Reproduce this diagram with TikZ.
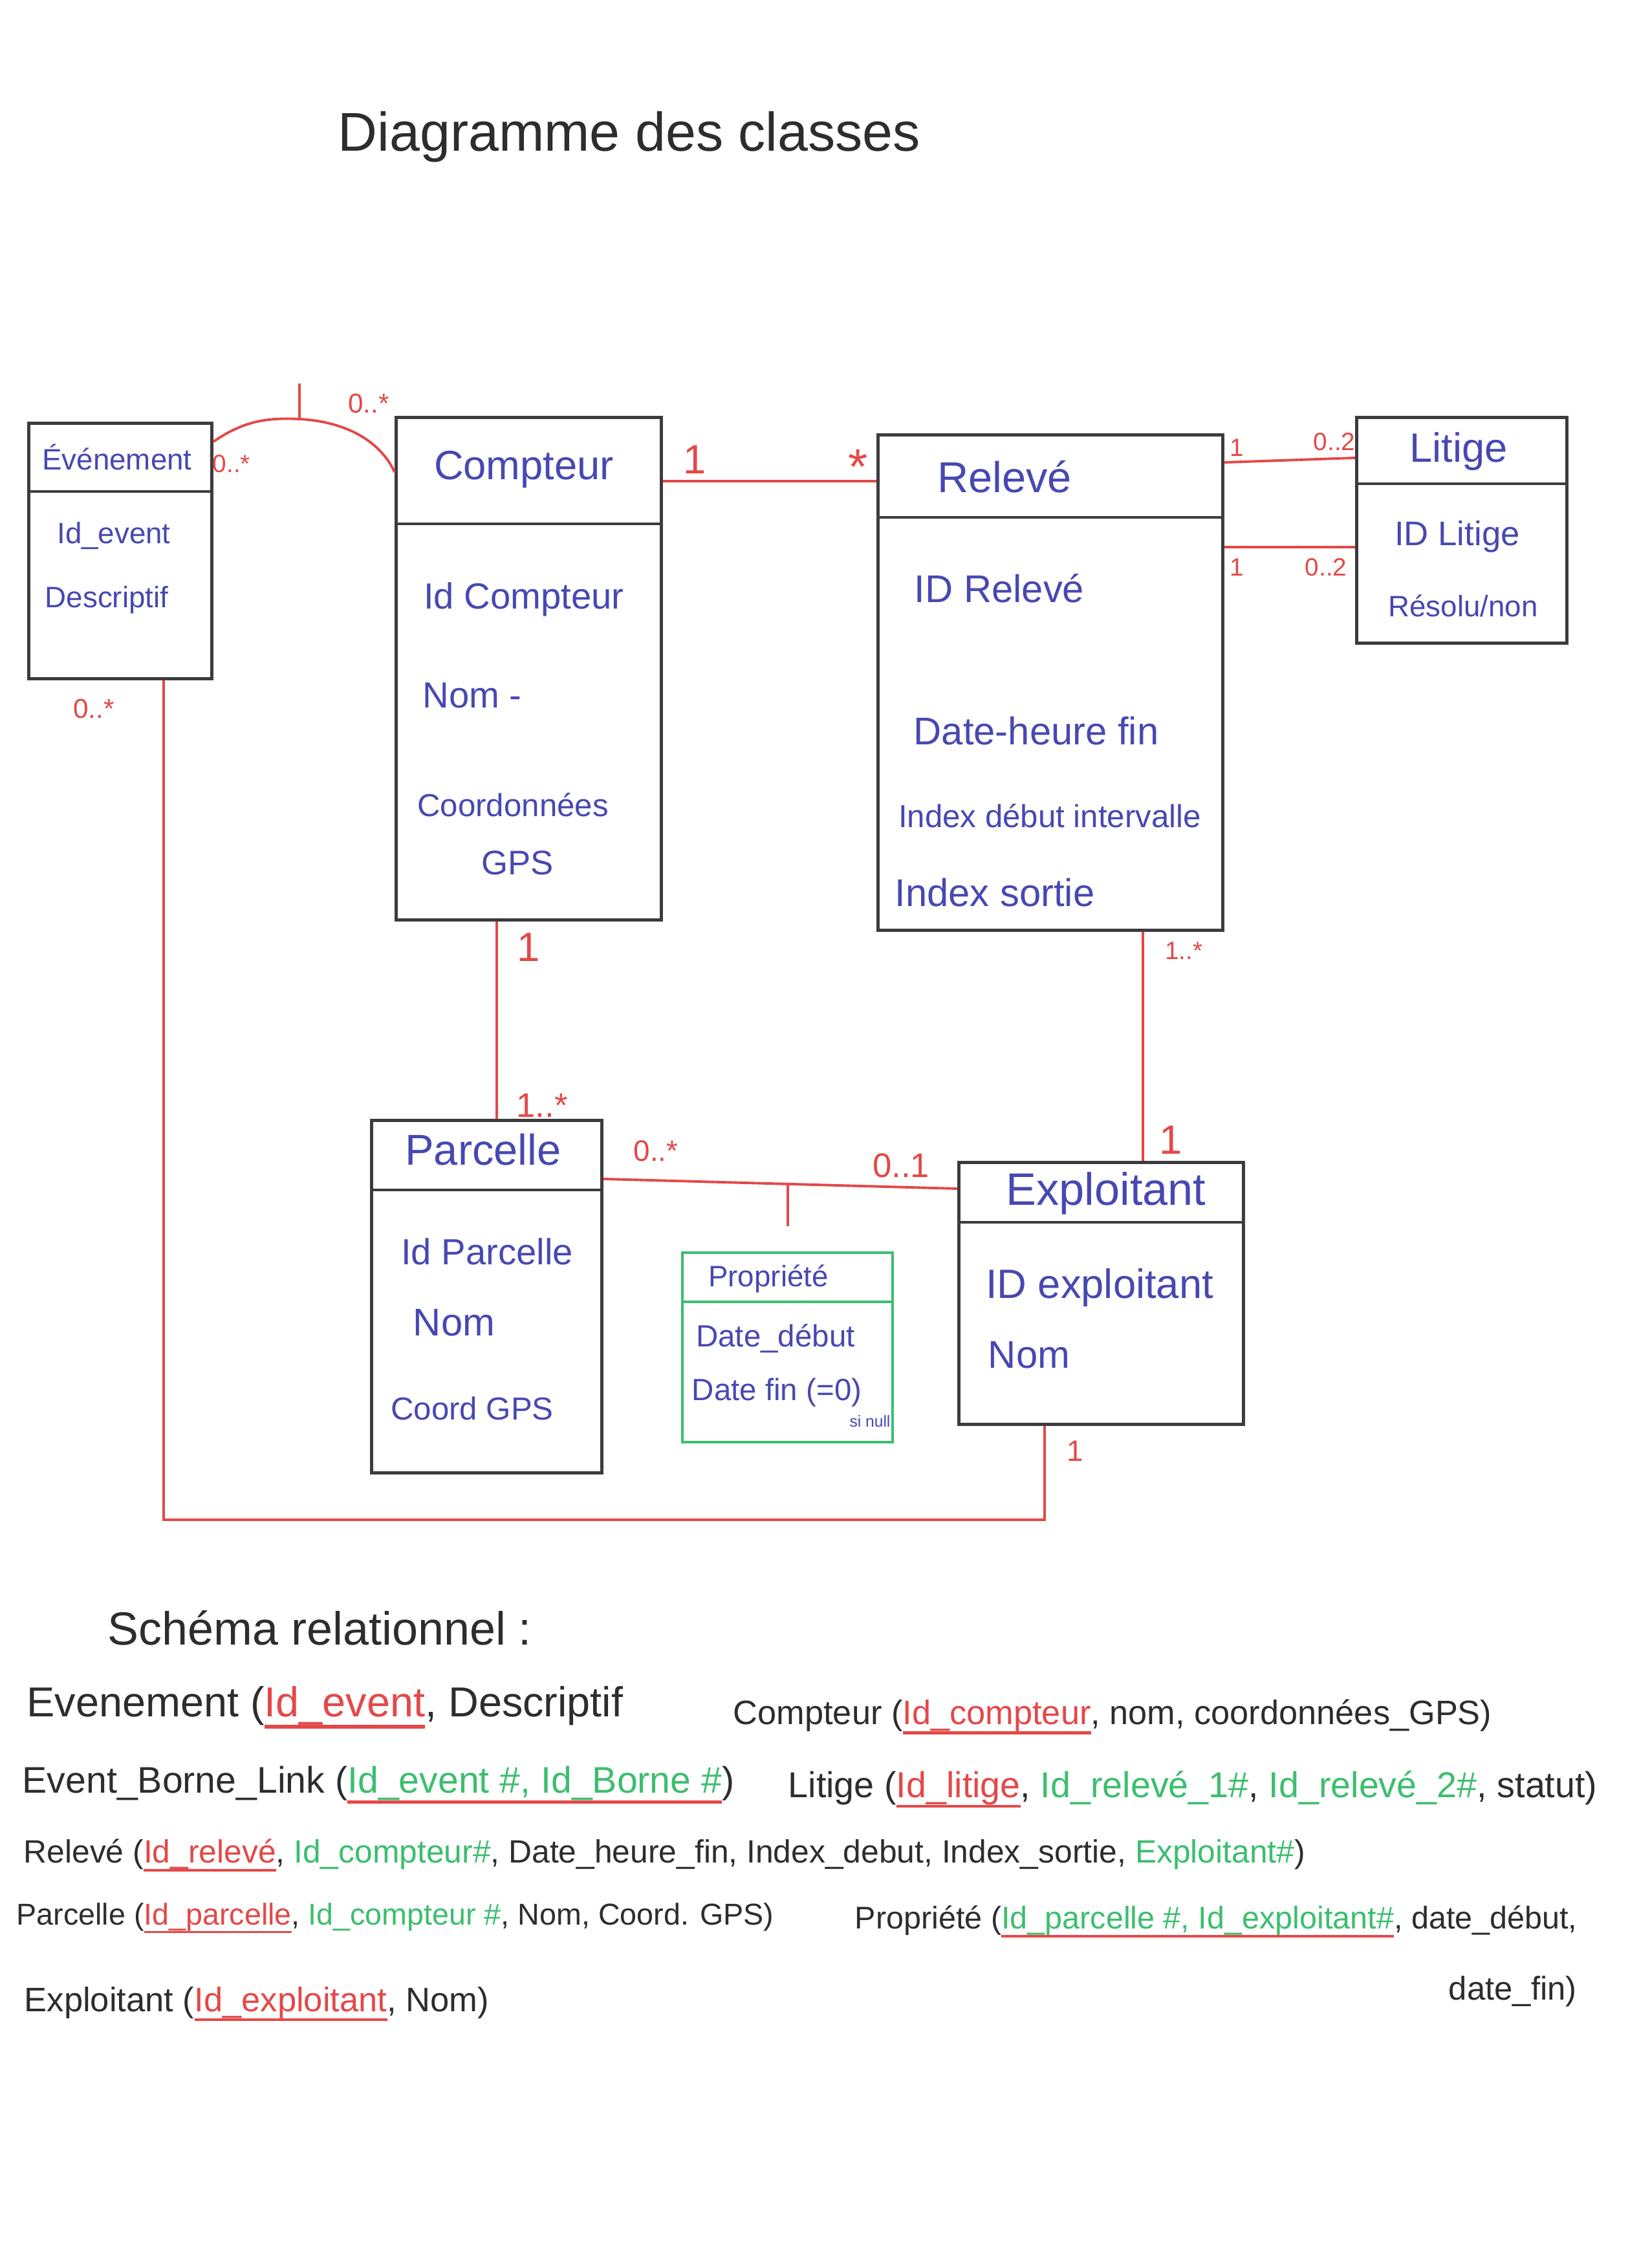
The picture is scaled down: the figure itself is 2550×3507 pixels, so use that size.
\documentclass[tikz,border=0pt]{standalone}
\usepackage{fontspec}
\setmainfont{Liberation Sans}
\usepackage{graphicx}
\definecolor{cblue}{RGB}{72,72,178}
\definecolor{cgray}{RGB}{60,60,64}
\definecolor{cred}{RGB}{228,72,72}
\definecolor{cgreen}{RGB}{60,190,110}
\definecolor{cblack}{RGB}{45,45,48}
\newcommand\fsz[1]{\fontsize{#1}{#1}\selectfont}
\newcommand\fitw[2]{\resizebox{#1}{!}{#2}}
\newsavebox\ulbox
\newcommand\keyul[1]{\sbox\ulbox{#1}\rlap{\usebox\ulbox}{\color{cred}\rule[-0.28em]{\wd\ulbox}{0.08em}}}
\newcommand\pk[1]{\keyul{\textcolor{cred}{#1}}}
\newcommand\fk[1]{\textcolor{cgreen}{#1}}
\begin{document}
\begin{tikzpicture}[x=0.01cm,y=-0.01cm,
  box/.style={draw=cgray, line width=1.4pt, anchor=north west, inner sep=0pt},
  greenbox/.style={box, draw=cgreen, line width=1.2pt},
  sepline/.style={draw=cgray, line width=1.4pt},
  gsepline/.style={draw=cgreen, line width=1.2pt},
  link/.style={draw=cred, line width=1.1pt},
  attr/.style={text=cblue, inner sep=0pt},
  mult/.style={text=cred, inner sep=0pt},
  schema/.style={text=cblack, anchor=west, inner sep=0pt, font=\fsz{17}}]
\useasboundingbox (0,0) rectangle (2550,3507);
\fill[white] (0,0) rectangle (2550,3507);

% title
\node[text=cblack, font=\fsz{24}] (title) at (973,212) {Diagramme des classes};

% class boxes
\node[box, minimum width=2.83cm, minimum height=3.95cm] (ev) at (42,652) {};
\node[box, minimum width=4.10cm, minimum height=7.77cm] (cpt) at (610,643) {};
\node[box, minimum width=5.33cm, minimum height=7.66cm] (rel) at (1355,670) {};
\node[box, minimum width=3.25cm, minimum height=3.49cm] (lit) at (2095,643) {};
\node[box, minimum width=3.56cm, minimum height=5.45cm] (par) at (572,1730) {};
\node[box, minimum width=4.40cm, minimum height=4.05cm] (exp) at (1480,1795) {};
\node[greenbox, minimum width=3.25cm, minimum height=2.93cm] (pro) at (1053,1935) {};

% separators
\draw[sepline] (ev.west |- 0,760) -- (ev.east |- 0,760);
\draw[sepline] (cpt.west |- 0,810) -- (cpt.east |- 0,810);
\draw[sepline] (rel.west |- 0,800) -- (rel.east |- 0,800);
\draw[sepline] (lit.west |- 0,748) -- (lit.east |- 0,748);
\draw[sepline] (par.west |- 0,1840) -- (par.east |- 0,1840);
\draw[sepline] (exp.west |- 0,1890) -- (exp.east |- 0,1890);
\draw[gsepline] (pro.west |- 0,2013) -- (pro.east |- 0,2013);

% class texts
\node[attr, font=\fsz{13}] (evn) at (181,707) {Événement};
\node[attr, font=\fsz{13}] (eva) at (176,828) {Id\_event};
\node[attr, font=\fsz{13}] (evb) at (165,928) {Descriptif};

\node[attr, font=\fsz{18}] (cptn) at (810,726) {Compteur};
\node[attr, font=\fsz{16}] (cpta) at (810,927) {Id Compteur};
\node[attr, font=\fsz{16}] (cptb) at (730,1075) {Nom -};
\node[attr, font=\fsz{14}] (cptc) at (793,1245) {Coordonnées};
\node[attr, font=\fsz{15}] (cptd) at (800,1334) {GPS};

\node[attr, font=\fsz{19}] (reln) at (1553,737) {Relevé};
\node[attr, font=\fsz{17}] (rela) at (1545,910) {ID Relevé};
\node[attr, font=\fsz{17}] (relb) at (1602,1130) {Date-heure fin};
\node[attr, font=\fsz{14}] (relc) at (1623,1262) {Index début intervalle};
\node[attr, font=\fsz{17}] (reld) at (1538,1380) {Index sortie};

\node[attr, font=\fsz{18}] (litn) at (2255,698) {Litige};
\node[attr, font=\fsz{15}] (lita) at (2253,830) {ID Litige};
\node[attr, font=\fsz{13}] (litb) at (2262,937) {Résolu/non};

\node[attr, font=\fsz{19}] (parn) at (747,1778) {Parcelle};
\node[attr, font=\fsz{16}] (para) at (753,1935) {Id Parcelle};
\node[attr, font=\fsz{17}] (parb) at (702,2045) {Nom};
\node[attr, font=\fsz{14}] (parc) at (730,2178) {Coord GPS};

\node[attr, font=\fsz{20}] (expn) at (1710,1845) {Exploitant};
\node[attr, font=\fsz{18}] (expa) at (1700,1991) {ID exploitant};
\node[attr, font=\fsz{17}] (expb) at (1591,2095) {Nom};

\node[attr, font=\fsz{13}] (pron) at (1188,1977) {Propriété};
\node[attr, font=\fsz{13.5}] (proa) at (1199,2070) {Date\_début};
\node[attr, font=\fsz{13.5}] (prob) at (1201,2153) {Date fin (=0)};
\node[attr, font=\fsz{7}] (proc) at (1345,2198) {si null};

% connectors
\coordinate (evpk) at (463,648);
\coordinate (evtk) at (463,593);
\draw[link] (ev.east |- 0,683) .. controls (380,648) and (420,646) .. (evpk)
  .. controls (535,652) and (588,682) .. (cpt.west |- 0,730);
\draw[link] (evpk) -- (evtk);
\draw[link] (cpt.east |- 0,744) -- (rel.west |- 0,744);
\draw[link] (rel.east |- 0,715) -- (lit.west |- 0,708);
\draw[link] (rel.east |- 0,846) -- (lit.west |- 0,846);
\draw[link] (cpt.south -| 768,0) -- (par.north -| 768,0);
\draw[link] (rel.south -| 1767,0) -- (exp.north -| 1767,0);
\coordinate (ppk) at (1218,1831);
\coordinate (ptk) at (1218,1896);
\draw[link] (par.east |- 0,1823) -- (exp.west |- 0,1838);
\draw[link] (ppk) -- (ptk);
\coordinate (evc) at (1615,2350);
\draw[link] (ev.south -| 253,0) |- (evc) -- (exp.south -| 1615,0);

% multiplicities
\node[mult, font=\fsz{11}] (m1) at (358,717) {0..*};
\node[mult, font=\fsz{12}] (m2) at (570,624) {0..*};
\node[mult, font=\fsz{18}] (m3) at (1074,711) {1};
\node[mult, font=\fsz{22}] (m4) at (1327,722) {*};
\node[mult, font=\fsz{11}] (m5) at (1912,692) {1};
\node[mult, font=\fsz{11}] (m6) at (2063,683) {0..2};
\node[mult, font=\fsz{11}] (m7) at (1912,877) {1};
\node[mult, font=\fsz{11}] (m8) at (2050,877) {0..2};
\node[mult, font=\fsz{12}] (m9) at (145,1096) {0..*};
\node[mult, font=\fsz{18}] (m10) at (817,1465) {1};
\node[mult, font=\fsz{15}] (m11) at (838,1709) {1..*};
\node[mult, font=\fsz{11}] (m12) at (1830,1470) {1..*};
\node[mult, font=\fsz{18}] (m13) at (1810,1763) {1};
\node[mult, font=\fsz{13}] (m14) at (1014,1780) {0..*};
\node[mult, font=\fsz{15}] (m15) at (1393,1802) {0..1};
\node[mult, font=\fsz{13}] (m16) at (1662,2244) {1};

% relational schema
\node[schema, font=\fsz{20}] (s0) at (166,2517) {\fitw{6.55cm}{Schéma relationnel :}};
\node[schema] (s1) at (41,2640) {\fitw{9.21cm}{Evenement (\pk{Id\_event}, Descriptif}};
\node[schema] (s2) at (1133,2655) {\fitw{11.72cm}{Compteur (\pk{Id\_compteur}, nom, coordonnées\_GPS)}};
\node[schema] (s3) at (34,2760) {\fitw{11.0cm}{Event\_Borne\_Link (\keyul{\fk{Id\_event \#, Id\_Borne \#}})}};
\node[schema] (s4) at (1218,2767) {\fitw{12.5cm}{Litige (\pk{Id\_litige}, \fk{Id\_relevé\_1\#}, \fk{Id\_relevé\_2\#}, statut)}};
\node[schema] (s5) at (36,2869) {\fitw{19.8cm}{Relevé (\pk{Id\_relevé}, \fk{Id\_compteur\#}, Date\_heure\_fin, Index\_debut, Index\_sortie, \fk{Exploitant\#})}};
\node[schema] (s6) at (25,2966) {\fitw{11.7cm}{Parcelle (\pk{Id\_parcelle}, \fk{Id\_compteur \#}, Nom, Coord. GPS)}};
\node[schema] (s7) at (1321,2971) {\fitw{11.16cm}{Propriété (\keyul{\fk{Id\_parcelle \#, Id\_exploitant\#}}, date\_début,}};
\node[schema] (s8) at (2239,3079) {\fitw{1.98cm}{date\_fin)}};
\node[schema] (s9) at (37,3099) {\fitw{7.18cm}{Exploitant (\pk{Id\_exploitant}, Nom)}};
\end{tikzpicture}
\end{document}
